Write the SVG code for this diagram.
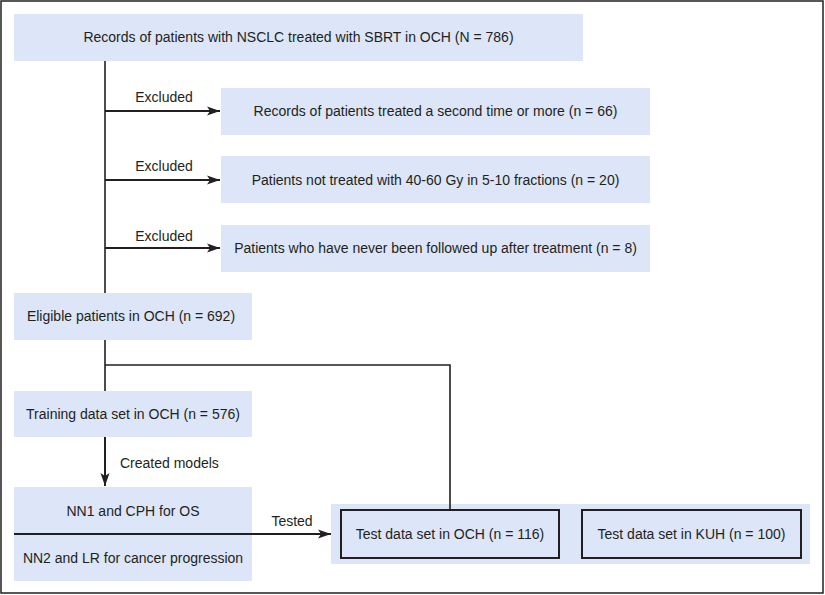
<svg xmlns="http://www.w3.org/2000/svg" width="825" height="595" viewBox="0 0 825 595">
<style>
.box{fill:#dce6f8;}
.inner{fill:#dce6f8;stroke:#231f20;stroke-width:2;}
text{font-family:"Liberation Sans",Arial,sans-serif;font-size:14px;fill:#231f20;}
.c{text-anchor:middle;}
.ln{stroke:#231f20;stroke-width:1.6;fill:none;}
.ar{stroke:#231f20;stroke-width:2;fill:none;marker-end:url(#ah);}
</style>
<defs>
<marker id="ah" markerUnits="userSpaceOnUse" markerWidth="14" markerHeight="10" refX="13" refY="5" orient="auto">
<path d="M0,0.5 L13,5 L0,9.5 L3,5 z" fill="#231f20"/>
</marker>
</defs>
<rect x="1" y="1" width="822" height="592" fill="#fff" stroke="#231f20" stroke-width="1.5"/>
<g id="n-records">
<rect class="box" x="14" y="14" width="569" height="47"/>
<text class="c" x="298.5" y="42">Records of patients with NSCLC treated with SBRT in OCH (N = 786)</text>
</g>
<g id="n-excl1">
<rect class="box" x="221" y="88" width="429" height="47"/>
<text class="c" x="435.5" y="116">Records of patients treated a second time or more (n = 66)</text>
</g>
<g id="n-excl2">
<rect class="box" x="221" y="156" width="429" height="47"/>
<text class="c" x="435.5" y="185">Patients not treated with 40-60 Gy in 5-10 fractions (n = 20)</text>
</g>
<g id="n-excl3">
<rect class="box" x="221" y="225" width="429" height="47"/>
<text class="c" x="435.5" y="253">Patients who have never been followed up after treatment (n = 8)</text>
</g>
<g id="n-eligible">
<rect class="box" x="14" y="293" width="238" height="47"/>
<text class="c" x="131" y="321">Eligible patients in OCH (n = 692)</text>
</g>
<g id="n-training">
<rect class="box" x="14" y="391" width="238" height="46"/>
<text class="c" x="133" y="419">Training data set in OCH (n = 576)</text>
</g>
<g id="n-models">
<rect class="box" x="14" y="487" width="238" height="94"/>
<text class="c" x="133" y="516">NN1 and CPH for OS</text>
<text class="c" x="133" y="563">NN2 and LR for cancer progression</text>
</g>
<g id="n-test">
<rect class="box" x="331" y="504" width="479" height="60"/>
<g id="n-test-och">
<rect class="inner" x="341" y="510" width="218" height="48"/>
<text class="c" x="450" y="539">Test data set in OCH (n = 116)</text>
</g>
<g id="n-test-kuh">
<rect class="inner" x="582" y="510" width="219" height="48"/>
<text class="c" x="691.5" y="539">Test data set in KUH (n = 100)</text>
</g>
</g>
<g id="connectors">
<line class="ln" x1="105" y1="61" x2="105" y2="293"/>
<line class="ar" x1="105" y1="111" x2="220" y2="111"/>
<line class="ar" x1="105" y1="180" x2="220" y2="180"/>
<line class="ar" x1="105" y1="248" x2="220" y2="248"/>
<text class="c" x="164" y="102">Excluded</text>
<text class="c" x="164" y="171">Excluded</text>
<text class="c" x="164" y="241">Excluded</text>
<line class="ln" x1="105" y1="340" x2="105" y2="391"/>
<polyline class="ln" points="105,365 450,365 450,510"/>
<line class="ar" x1="105" y1="437" x2="105" y2="486"/>
<text x="120" y="468">Created models</text>
<line class="ar" x1="14" y1="534" x2="331" y2="534"/>
<text class="c" x="292" y="526">Tested</text>
</g>
</svg>
